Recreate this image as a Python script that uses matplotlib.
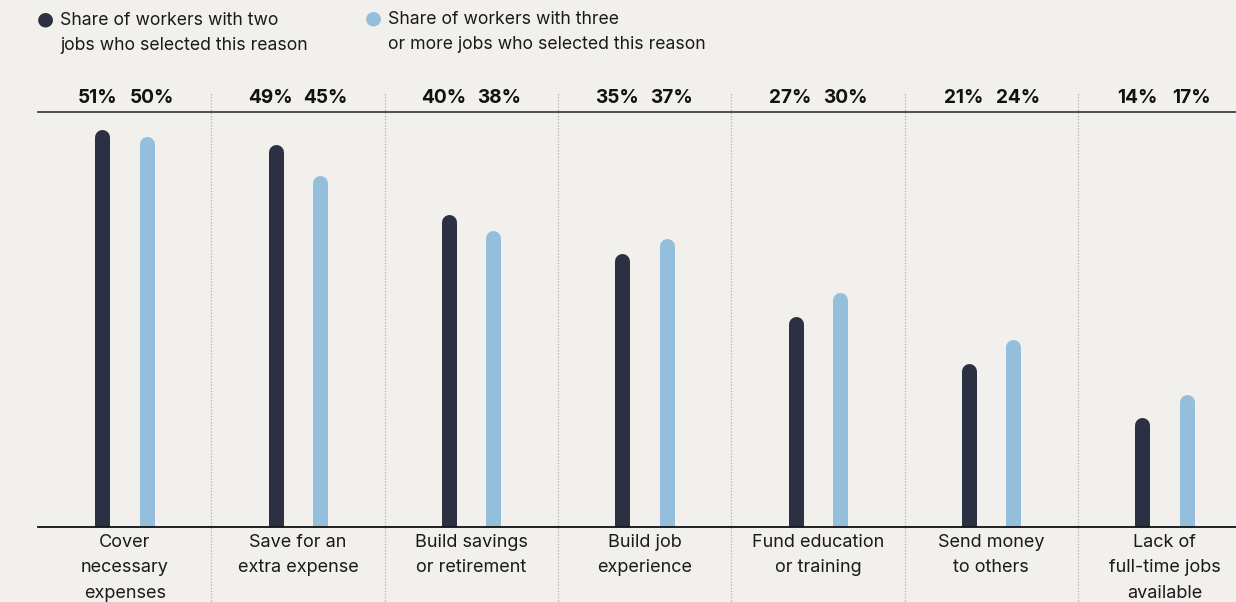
import matplotlib
matplotlib.use("Agg")
import matplotlib.pyplot as plt
import numpy as np

categories = ["Cover\nnecessary\nexpenses", "Save for an\nextra expense", "Build savings\nor retirement",
              "Build job\nexperience", "Fund education\nor training", "Send money\nto others",
              "Lack of\nfull-time jobs\navailable"]
two_jobs = [51, 49, 40, 35, 27, 21, 14]
three_jobs = [50, 45, 38, 37, 30, 24, 17]
series_labels = ["Share of workers with two\njobs who selected this reason",
                 "Share of workers with three\nor more jobs who selected this reason"]

BG = "#f2f0ec"
DARK = "#2b3142"
LIGHT = "#93bfdd"
plt.rcParams['font.family'] = ['Inter', 'DejaVu Sans']

W, H = 1236, 602
fig = plt.figure(figsize=(W / 100, H / 100), dpi=100, facecolor=BG)
ax = fig.add_axes([38 / W, (H - 527) / H, (W - 38) / W, 415 / H])
ax.set_facecolor(BG)

ymax = 53.2
ax.set_ylim(0, ymax)
ax.set_xlim(-0.5, -0.5 + (W - 38) / 173.3)

x = np.arange(len(categories))
bar_off = 0.128
lbl_off = 0.158
lw_px = 15
lw_pt = lw_px * 72 / 100
px_per_unit = 415 / ymax
r = (lw_px / 2) / px_per_unit

for vals, xs, col in [(two_jobs, x - bar_off, DARK), (three_jobs, x + bar_off, LIGHT)]:
    vals = np.array(vals, dtype=float)
    ax.vlines(xs, -5, vals - r, colors=col, linewidth=lw_pt, capstyle='round')

for i in range(len(categories)):
    ax.text(x[i] - lbl_off, ymax + 1.8, f"{two_jobs[i]}%", ha='center', va='center',
            fontsize=13.7, fontweight='bold', color='#111111', clip_on=False)
    ax.text(x[i] + lbl_off, ymax + 1.8, f"{three_jobs[i]}%", ha='center', va='center',
            fontsize=13.7, fontweight='bold', color='#111111', clip_on=False)
    ax.text(x[i], -0.85, categories[i], ha='center', va='top', fontsize=13, color='#1a1a1a',
            linespacing=1.66, clip_on=False)

for sep in x[:-1] + 0.5:
    ax.plot([sep, sep], [-9.5, ymax + 2.6], color='#b0b0b0', lw=0.9, ls=(0, (1, 1.5)),
            clip_on=False, zorder=0)

for s in ['left', 'right']:
    ax.spines[s].set_visible(False)
ax.spines['top'].set_color('#444444')
ax.spines['top'].set_linewidth(1.3)
ax.spines['bottom'].set_color('#111111')
ax.spines['bottom'].set_linewidth(1.3)
ax.set_xticks([])
ax.set_yticks([])

# legend
fig.text(45 / W, 1 - 19 / H, "●", color=DARK, fontsize=14, ha='center', va='center',
         family='DejaVu Sans')
fig.text(60 / W, 1 - 33 / H, series_labels[0], fontsize=12.7, color='#1a1a1a', ha='left',
         va='center', linespacing=1.66)
fig.text(373 / W, 1 - 18 / H, "●", color=LIGHT, fontsize=14, ha='center', va='center',
         family='DejaVu Sans')
fig.text(388 / W, 1 - 32 / H, series_labels[1], fontsize=12.7, color='#1a1a1a', ha='left',
         va='center', linespacing=1.66)

fig.savefig("out.png", dpi=100, facecolor=BG)
